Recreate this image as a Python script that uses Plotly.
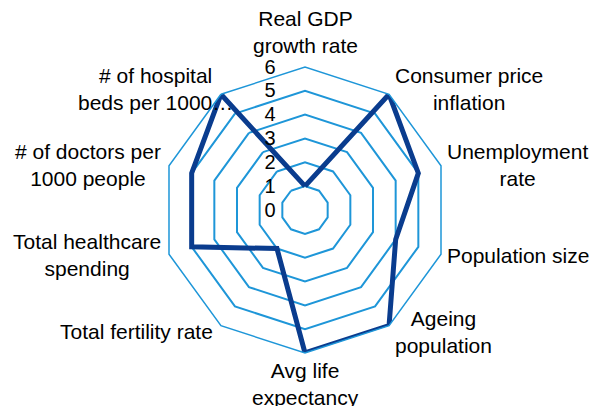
import math
import plotly.graph_objects as go

categories = [
    "Real GDP<br>growth rate",
    "Consumer price<br>inflation",
    "Unemployment<br>rate",
    "Population size",
    "Ageing<br>population",
    "Avg life<br>expectancy",
    "Total fertility rate",
    "Total healthcare<br>spending",
    "# of doctors per<br>1000 people",
    "# of hospital<br>beds per 1000…",
]
scores = [1, 6, 5, 4, 6, 6, 2, 5, 5, 6]
radial_ticks = [0, 1, 2, 3, 4, 5, 6]

W, H = 593, 406
cx, cy, R = 305, 210, 143
GRID = "#1E96D8"
LINE = "#0A3C8E"
FONT = "Liberation Sans, Arial, sans-serif"

fig = go.Figure(
    go.Scatterpolar(
        r=scores + scores[:1],
        theta=categories + categories[:1],
        mode="lines",
        line=dict(color=LINE, width=5),
        hoverinfo="skip",
    )
)

# category labels placed just outside each spoke of the decagon, text centred
annotations = []
n = len(categories)
for i, label in enumerate(categories):
    ang = math.radians(90 - 360 * i / n)
    c, s = math.cos(ang), math.sin(ang)
    px = cx + R * c
    py = cy - R * s
    xshift = 0
    if c > 0.1:
        xanchor, px = "left", px + 4
    elif c < -0.1:
        xanchor, px = "right", px - 6
    else:
        xanchor = "center"
    if s > 0.9:
        yanchor, py = "bottom", py - 8
    elif s < -0.9:
        yanchor, py = "top", py + 4
    else:
        yanchor = "middle"
        if s > 0.5:
            py -= 5
        elif s > 0:
            py -= 1
        elif s > -0.5:
            py += 1
        else:
            py += 6
    if label.endswith("…"):
        # truncated label overhangs its box
        xshift = 20
    annotations.append(
        dict(
            text=label,
            x=px / W,
            y=1 - py / H,
            xref="paper",
            yref="paper",
            xanchor=xanchor,
            yanchor=yanchor,
            xshift=xshift,
            align="center",
            showarrow=False,
            font=dict(family=FONT, size=21, color="#000000"),
        )
    )

fig.update_layout(
    width=W,
    height=H,
    margin=dict(l=0, r=0, t=0, b=0),
    paper_bgcolor="white",
    showlegend=False,
    font=dict(family=FONT, size=21, color="#000000"),
    annotations=annotations,
    polar=dict(
        domain=dict(
            x=[(cx - R) / W, (cx + R) / W],
            y=[(H - cy - R) / H, (H - cy + R) / H],
        ),
        bgcolor="white",
        gridshape="linear",
        radialaxis=dict(
            range=[0, 6],
            tickvals=radial_ticks,
            ticktext=[str(v) for v in radial_ticks],
            angle=90,
            tickangle=90,
            side="counterclockwise",
            showline=False,
            showgrid=True,
            gridcolor=GRID,
            gridwidth=1.5,
            ticks="outside",
            ticklen=22,
            tickcolor="rgba(0,0,0,0)",
            tickfont=dict(family=FONT, size=20, color="#000000"),
        ),
        angularaxis=dict(
            direction="clockwise",
            rotation=90,
            showgrid=False,
            showline=True,
            linecolor=GRID,
            linewidth=1.5,
            ticks="",
            showticklabels=False,
        ),
    ),
)

fig.write_html("out.html")
